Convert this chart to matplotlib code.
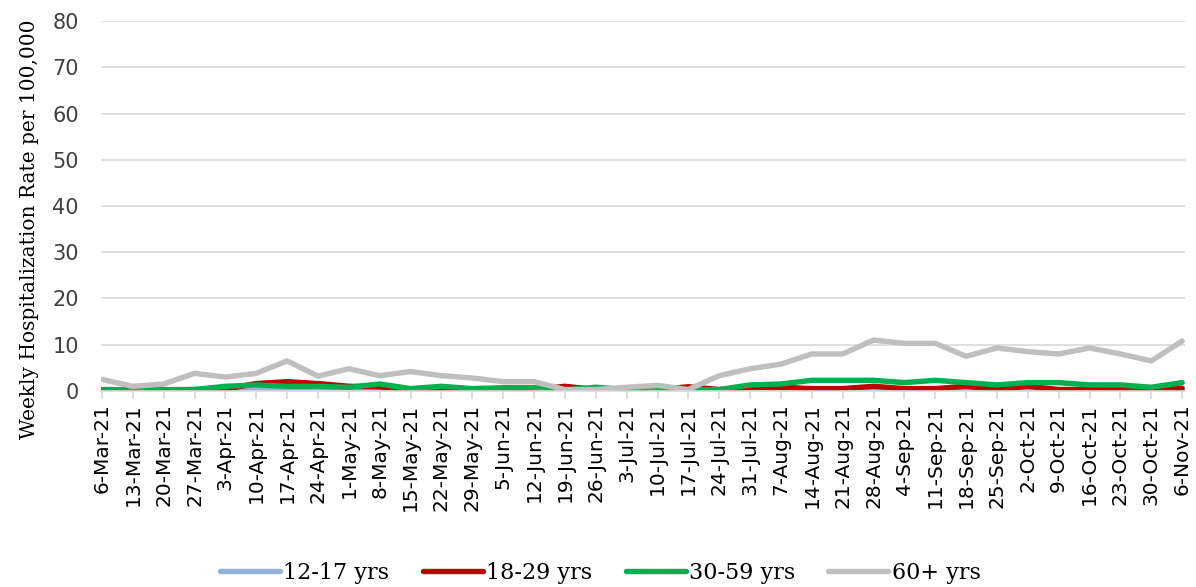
import matplotlib.pyplot as plt
import numpy as np

# week labels
weeks = ['6-Mar-21', '13-Mar-21', '20-Mar-21', '27-Mar-21', '3-Apr-21', '10-Apr-21',
         '17-Apr-21', '24-Apr-21', '1-May-21', '8-May-21', '15-May-21', '22-May-21',
         '29-May-21', '5-Jun-21', '12-Jun-21', '19-Jun-21', '26-Jun-21', '3-Jul-21',
         '10-Jul-21', '17-Jul-21', '24-Jul-21', '31-Jul-21', '7-Aug-21', '14-Aug-21',
         '21-Aug-21', '28-Aug-21', '4-Sep-21', '11-Sep-21', '18-Sep-21', '25-Sep-21',
         '2-Oct-21', '9-Oct-21', '16-Oct-21', '23-Oct-21', '30-Oct-21', '6-Nov-21']

# rates per 100,000
age_12_17 = [0.1, 0.1, 0.1, 0.1, 0.1, 0.2, 0.3, 0.2, 0.2, 0.1, 0.2, 0.1,
             0.1, 0.1, 0.1, 0.1, 0.1, 0.1, 0.1, 0.1, 0.1, 0.2, 0.2, 0.3,
             0.3, 0.4, 0.3, 0.4, 0.3, 0.2, 0.2, 0.3, 0.2, 0.2, 0.2, 0.2]
age_18_29 = [0.2, 0.2, 0.2, 0.3, 0.4, 1.6, 2.0, 1.6, 1.0, 0.9, 0.3, 0.3,
             0.3, 0.3, 0.3, 1.0, 0.3, 0.3, 0.3, 0.9, 0.3, 0.8, 0.8, 0.5,
             0.5, 1.0, 0.5, 0.5, 1.0, 0.3, 1.0, 0.3, 0.3, 0.3, 0.3, 0.6]
age_30_59 = [0.3, 0.3, 0.3, 0.3, 1.0, 1.3, 1.0, 1.0, 0.8, 1.5, 0.5, 1.0,
             0.5, 0.7, 0.7, 0.2, 0.8, 0.3, 0.5, 0.2, 0.3, 1.3, 1.5, 2.3,
             2.3, 2.3, 1.8, 2.3, 1.8, 1.3, 1.8, 1.8, 1.3, 1.3, 0.8, 1.8]
age_60_plus = [2.5, 1.0, 1.5, 3.8, 3.0, 3.8, 6.5, 3.2, 4.8, 3.3, 4.2, 3.3,
               2.8, 2.0, 2.0, 0.3, 0.3, 0.8, 1.2, 0.3, 3.3, 4.8, 5.8, 8.0,
               8.0, 11.0, 10.3, 10.3, 7.5, 9.3, 8.5, 8.0, 9.3, 8.0, 6.5, 10.8]

series = [('12-17 yrs', age_12_17, '#95B3D7'),
          ('18-29 yrs', age_18_29, '#C00000'),
          ('30-59 yrs', age_30_59, '#00B050'),
          ('60+ yrs', age_60_plus, '#BFBFBF')]

fig = plt.figure(figsize=(11.96, 5.87), dpi=100)
ax = fig.add_axes([0.0845, 0.334, 0.906, 0.63])

x = np.arange(len(weeks))
for name, vals, col in series:
    ax.plot(x, vals, color=col, linewidth=3.9, label=name, solid_capstyle='round')

ax.set_ylim(0, 80)
ax.set_yticks(range(0, 81, 10))
ax.set_xlim(-0.03, len(weeks) - 1 + 0.08)
ax.set_xticks(x)
ax.set_xticklabels(weeks, rotation=90, fontsize=14.5, family='DejaVu Sans')
for lab in ax.get_yticklabels():
    lab.set_family('DejaVu Sans')
    lab.set_fontsize(15)

ax.grid(axis='y', color='#D9D9D9', linewidth=1.2)
ax.set_axisbelow(True)
for s in ['top', 'right', 'left']:
    ax.spines[s].set_visible(False)
ax.spines['bottom'].set_color('#D9D9D9')
ax.spines['bottom'].set_linewidth(1.2)
ax.tick_params(axis='y', length=0, pad=16, labelcolor='#404040')
ax.tick_params(axis='x', length=6, color='#D9D9D9', width=1.2, pad=3, labelcolor='#000000')

# y label sits a bit below the middle of the axis
fig.text(0.025, 0.61, 'Weekly Hospitalization Rate per 100,000', family='DejaVu Serif',
         fontsize=14.5, rotation=90, ha='center', va='center')

fig.legend(loc='center', bbox_to_anchor=(0.502, 0.024), ncol=4, frameon=False,
           prop={'family': 'DejaVu Serif', 'size': 16}, handlelength=2.7,
           handletextpad=0.15, columnspacing=1.5)

fig.savefig('out.png', dpi=100)
